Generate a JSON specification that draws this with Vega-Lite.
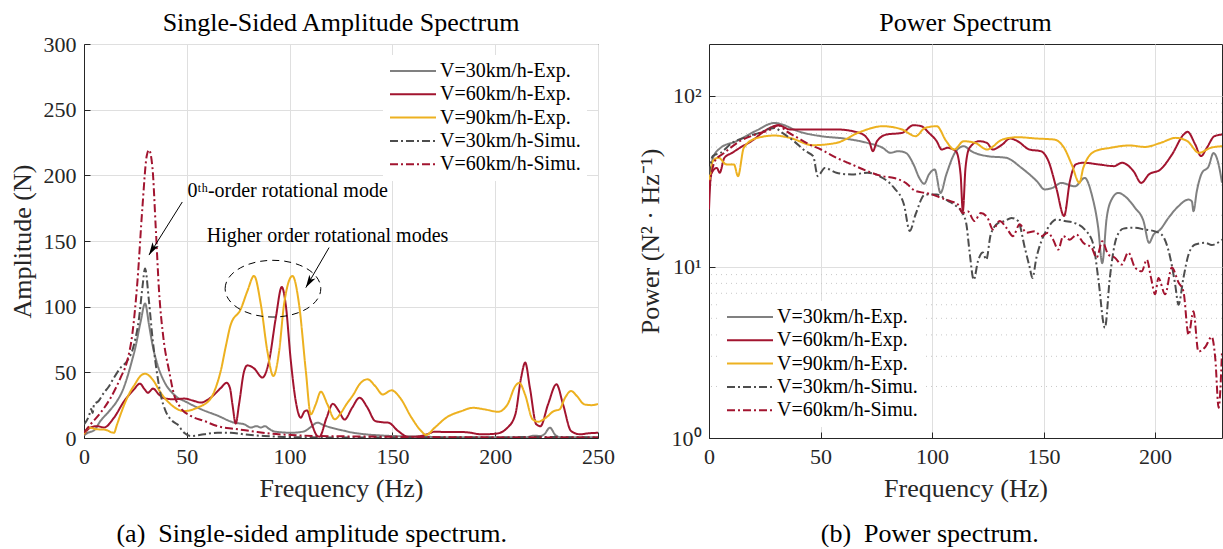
{
  "$schema": "https://vega.github.io/schema/vega-lite/v6.json",
  "background": "white",
  "padding": {"left": 8, "top": 9, "right": 0, "bottom": 0},
  "config": {
    "font": "Liberation Serif",
    "view": {"stroke": "#262626", "strokeWidth": 1},
    "axis": {
      "labelFont": "Liberation Serif",
      "titleFont": "Liberation Serif",
      "labelFontSize": 22,
      "titleFontSize": 26,
      "titleFontWeight": "normal",
      "labelColor": "#262626",
      "titleColor": "#262626",
      "domainColor": "#262626",
      "tickColor": "#262626",
      "gridColor": "#dfdfdf",
      "gridWidth": 1,
      "tickSize": -6,
      "labelPadding": 14,
      "titlePadding": 8,
      "labelFlush": false
    },
    "title": {"font": "Liberation Serif", "fontSize": 26, "fontWeight": "normal", "color": "black", "anchor": "middle"},
    "legend": {
      "title": null,
      "offset": 11,
      "padding": 6,
      "fillColor": "white",
      "labelFont": "Liberation Serif",
      "labelFontSize": 20,
      "labelColor": "black",
      "labelLimit": 300,
      "labelOffset": 3,
      "symbolType": "stroke",
      "symbolSize": 2116,
      "symbolStrokeWidth": 2,
      "rowPadding": 3.3,
      "clipHeight": 20
    }
  },
  "datasets": {
    "amp": [
      {"s": "V=30km/h-Exp.", "f": 0, "a": 2}, {"s": "V=30km/h-Exp.", "f": 2, "a": 4}, {"s": "V=30km/h-Exp.", "f": 5, "a": 6}, {"s": "V=30km/h-Exp.", "f": 8, "a": 13}, {"s": "V=30km/h-Exp.", "f": 12, "a": 20}, {"s": "V=30km/h-Exp.", "f": 16, "a": 28}, {"s": "V=30km/h-Exp.", "f": 19, "a": 37}, {"s": "V=30km/h-Exp.", "f": 21, "a": 46}, {"s": "V=30km/h-Exp.", "f": 23, "a": 57}, {"s": "V=30km/h-Exp.", "f": 25, "a": 69}, {"s": "V=30km/h-Exp.", "f": 27.6, "a": 89}, {"s": "V=30km/h-Exp.", "f": 29.7, "a": 102.5}, {"s": "V=30km/h-Exp.", "f": 31.6, "a": 86.5}, {"s": "V=30km/h-Exp.", "f": 33.3, "a": 71}, {"s": "V=30km/h-Exp.", "f": 35.7, "a": 56}, {"s": "V=30km/h-Exp.", "f": 39, "a": 43}, {"s": "V=30km/h-Exp.", "f": 43.8, "a": 33}, {"s": "V=30km/h-Exp.", "f": 50.3, "a": 27}, {"s": "V=30km/h-Exp.", "f": 56.8, "a": 22}, {"s": "V=30km/h-Exp.", "f": 65, "a": 17}, {"s": "V=30km/h-Exp.", "f": 73, "a": 11.7}, {"s": "V=30km/h-Exp.", "f": 78, "a": 10.4}, {"s": "V=30km/h-Exp.", "f": 81, "a": 8}, {"s": "V=30km/h-Exp.", "f": 84, "a": 9}, {"s": "V=30km/h-Exp.", "f": 86, "a": 8}, {"s": "V=30km/h-Exp.", "f": 88, "a": 9}, {"s": "V=30km/h-Exp.", "f": 90, "a": 7}, {"s": "V=30km/h-Exp.", "f": 92.5, "a": 5}, {"s": "V=30km/h-Exp.", "f": 100.6, "a": 4}, {"s": "V=30km/h-Exp.", "f": 107, "a": 5}, {"s": "V=30km/h-Exp.", "f": 110, "a": 8}, {"s": "V=30km/h-Exp.", "f": 113.5, "a": 11.7}, {"s": "V=30km/h-Exp.", "f": 117, "a": 9.5}, {"s": "V=30km/h-Exp.", "f": 120, "a": 8}, {"s": "V=30km/h-Exp.", "f": 125.7, "a": 5.8}, {"s": "V=30km/h-Exp.", "f": 131, "a": 4}, {"s": "V=30km/h-Exp.", "f": 137, "a": 2.8}, {"s": "V=30km/h-Exp.", "f": 146, "a": 1.8}, {"s": "V=30km/h-Exp.", "f": 155, "a": 1.3}, {"s": "V=30km/h-Exp.", "f": 165, "a": 1}, {"s": "V=30km/h-Exp.", "f": 180, "a": 0.5}, {"s": "V=30km/h-Exp.", "f": 200, "a": 0.5}, {"s": "V=30km/h-Exp.", "f": 215, "a": 0.6}, {"s": "V=30km/h-Exp.", "f": 219, "a": 1.8}, {"s": "V=30km/h-Exp.", "f": 222, "a": 1.5}, {"s": "V=30km/h-Exp.", "f": 224, "a": 3}, {"s": "V=30km/h-Exp.", "f": 226.6, "a": 7.9}, {"s": "V=30km/h-Exp.", "f": 229.4, "a": 2}, {"s": "V=30km/h-Exp.", "f": 232, "a": 0.6}, {"s": "V=30km/h-Exp.", "f": 240, "a": 0.5}, {"s": "V=30km/h-Exp.", "f": 250, "a": 0.5},

      {"s": "V=60km/h-Exp.", "f": 0, "a": 2.8}, {"s": "V=60km/h-Exp.", "f": 3.2, "a": 8}, {"s": "V=60km/h-Exp.", "f": 6.5, "a": 9}, {"s": "V=60km/h-Exp.", "f": 9.7, "a": 8}, {"s": "V=60km/h-Exp.", "f": 14.6, "a": 15.5}, {"s": "V=60km/h-Exp.", "f": 19.5, "a": 28}, {"s": "V=60km/h-Exp.", "f": 24.3, "a": 37}, {"s": "V=60km/h-Exp.", "f": 27.2, "a": 41.4}, {"s": "V=60km/h-Exp.", "f": 29.5, "a": 37}, {"s": "V=60km/h-Exp.", "f": 31.1, "a": 34.5}, {"s": "V=60km/h-Exp.", "f": 33.6, "a": 37.6}, {"s": "V=60km/h-Exp.", "f": 36.5, "a": 33}, {"s": "V=60km/h-Exp.", "f": 39.7, "a": 30}, {"s": "V=60km/h-Exp.", "f": 44, "a": 29.5}, {"s": "V=60km/h-Exp.", "f": 48.7, "a": 30}, {"s": "V=60km/h-Exp.", "f": 53, "a": 28.5}, {"s": "V=60km/h-Exp.", "f": 56.8, "a": 27}, {"s": "V=60km/h-Exp.", "f": 61.6, "a": 30.7}, {"s": "V=60km/h-Exp.", "f": 66.5, "a": 38}, {"s": "V=60km/h-Exp.", "f": 69.4, "a": 42}, {"s": "V=60km/h-Exp.", "f": 71, "a": 38}, {"s": "V=60km/h-Exp.", "f": 72.2, "a": 25.6}, {"s": "V=60km/h-Exp.", "f": 73.8, "a": 11}, {"s": "V=60km/h-Exp.", "f": 75.4, "a": 25.6}, {"s": "V=60km/h-Exp.", "f": 77.9, "a": 51}, {"s": "V=60km/h-Exp.", "f": 79.5, "a": 55.3}, {"s": "V=60km/h-Exp.", "f": 82.7, "a": 53}, {"s": "V=60km/h-Exp.", "f": 86.8, "a": 46}, {"s": "V=60km/h-Exp.", "f": 90, "a": 58.6}, {"s": "V=60km/h-Exp.", "f": 93.3, "a": 91.6}, {"s": "V=60km/h-Exp.", "f": 96.2, "a": 115}, {"s": "V=60km/h-Exp.", "f": 98.1, "a": 101.8}, {"s": "V=60km/h-Exp.", "f": 100.6, "a": 58.6}, {"s": "V=60km/h-Exp.", "f": 103, "a": 28}, {"s": "V=60km/h-Exp.", "f": 105.4, "a": 15.5}, {"s": "V=60km/h-Exp.", "f": 107.4, "a": 20.5}, {"s": "V=60km/h-Exp.", "f": 108.5, "a": 21}, {"s": "V=60km/h-Exp.", "f": 110.3, "a": 13}, {"s": "V=60km/h-Exp.", "f": 113.5, "a": 1.5}, {"s": "V=60km/h-Exp.", "f": 114.5, "a": 1}, {"s": "V=60km/h-Exp.", "f": 118, "a": 15.5}, {"s": "V=60km/h-Exp.", "f": 121, "a": 26}, {"s": "V=60km/h-Exp.", "f": 124, "a": 20.5}, {"s": "V=60km/h-Exp.", "f": 126.7, "a": 14}, {"s": "V=60km/h-Exp.", "f": 130.4, "a": 23}, {"s": "V=60km/h-Exp.", "f": 134, "a": 30.7}, {"s": "V=60km/h-Exp.", "f": 137.9, "a": 23}, {"s": "V=60km/h-Exp.", "f": 141.6, "a": 13}, {"s": "V=60km/h-Exp.", "f": 145, "a": 12}, {"s": "V=60km/h-Exp.", "f": 148, "a": 11.7}, {"s": "V=60km/h-Exp.", "f": 152.8, "a": 5.3}, {"s": "V=60km/h-Exp.", "f": 157.5, "a": 1}, {"s": "V=60km/h-Exp.", "f": 161, "a": 1}, {"s": "V=60km/h-Exp.", "f": 166.8, "a": 2.8}, {"s": "V=60km/h-Exp.", "f": 170.6, "a": 4.8}, {"s": "V=60km/h-Exp.", "f": 177, "a": 4.5}, {"s": "V=60km/h-Exp.", "f": 183.6, "a": 4.6}, {"s": "V=60km/h-Exp.", "f": 188, "a": 4}, {"s": "V=60km/h-Exp.", "f": 193, "a": 2.8}, {"s": "V=60km/h-Exp.", "f": 200.4, "a": 3.3}, {"s": "V=60km/h-Exp.", "f": 206, "a": 7.9}, {"s": "V=60km/h-Exp.", "f": 209.8, "a": 18}, {"s": "V=60km/h-Exp.", "f": 212.6, "a": 46}, {"s": "V=60km/h-Exp.", "f": 214.6, "a": 57.4}, {"s": "V=60km/h-Exp.", "f": 216.9, "a": 38}, {"s": "V=60km/h-Exp.", "f": 220, "a": 10.4}, {"s": "V=60km/h-Exp.", "f": 222, "a": 9}, {"s": "V=60km/h-Exp.", "f": 225.7, "a": 25.6}, {"s": "V=60km/h-Exp.", "f": 229.8, "a": 40.9}, {"s": "V=60km/h-Exp.", "f": 233, "a": 25.6}, {"s": "V=60km/h-Exp.", "f": 236.9, "a": 5.3}, {"s": "V=60km/h-Exp.", "f": 241.5, "a": 2.8}, {"s": "V=60km/h-Exp.", "f": 245, "a": 3.5}, {"s": "V=60km/h-Exp.", "f": 250, "a": 4},

      {"s": "V=90km/h-Exp.", "f": 0, "a": 2.8}, {"s": "V=90km/h-Exp.", "f": 2.4, "a": 8}, {"s": "V=90km/h-Exp.", "f": 4, "a": 7.5}, {"s": "V=90km/h-Exp.", "f": 6.5, "a": 6.6}, {"s": "V=90km/h-Exp.", "f": 9, "a": 6.5}, {"s": "V=90km/h-Exp.", "f": 11.4, "a": 5.8}, {"s": "V=90km/h-Exp.", "f": 13, "a": 4.5}, {"s": "V=90km/h-Exp.", "f": 14.6, "a": 4}, {"s": "V=90km/h-Exp.", "f": 16, "a": 10}, {"s": "V=90km/h-Exp.", "f": 17.8, "a": 18}, {"s": "V=90km/h-Exp.", "f": 20, "a": 27}, {"s": "V=90km/h-Exp.", "f": 22.7, "a": 35.8}, {"s": "V=90km/h-Exp.", "f": 24.8, "a": 41}, {"s": "V=90km/h-Exp.", "f": 26.8, "a": 46}, {"s": "V=90km/h-Exp.", "f": 29.7, "a": 49}, {"s": "V=90km/h-Exp.", "f": 33.3, "a": 44.7}, {"s": "V=90km/h-Exp.", "f": 37.3, "a": 34.5}, {"s": "V=90km/h-Exp.", "f": 42.2, "a": 25.6}, {"s": "V=90km/h-Exp.", "f": 48.7, "a": 20.5}, {"s": "V=90km/h-Exp.", "f": 55, "a": 23}, {"s": "V=90km/h-Exp.", "f": 61.6, "a": 30}, {"s": "V=90km/h-Exp.", "f": 64, "a": 38}, {"s": "V=90km/h-Exp.", "f": 66.5, "a": 51}, {"s": "V=90km/h-Exp.", "f": 69, "a": 70}, {"s": "V=90km/h-Exp.", "f": 71.4, "a": 86.5}, {"s": "V=90km/h-Exp.", "f": 76.2, "a": 98}, {"s": "V=90km/h-Exp.", "f": 79.5, "a": 112}, {"s": "V=90km/h-Exp.", "f": 82.7, "a": 123.4}, {"s": "V=90km/h-Exp.", "f": 86, "a": 101.8}, {"s": "V=90km/h-Exp.", "f": 89.2, "a": 66}, {"s": "V=90km/h-Exp.", "f": 92.1, "a": 47.2}, {"s": "V=90km/h-Exp.", "f": 94.9, "a": 66}, {"s": "V=90km/h-Exp.", "f": 97.3, "a": 101.8}, {"s": "V=90km/h-Exp.", "f": 101.4, "a": 123.4}, {"s": "V=90km/h-Exp.", "f": 104.6, "a": 101.8}, {"s": "V=90km/h-Exp.", "f": 107.9, "a": 51}, {"s": "V=90km/h-Exp.", "f": 110.3, "a": 18}, {"s": "V=90km/h-Exp.", "f": 112.7, "a": 25.6}, {"s": "V=90km/h-Exp.", "f": 115.2, "a": 35.3}, {"s": "V=90km/h-Exp.", "f": 118.4, "a": 25.6}, {"s": "V=90km/h-Exp.", "f": 122, "a": 14.2}, {"s": "V=90km/h-Exp.", "f": 124.5, "a": 18}, {"s": "V=90km/h-Exp.", "f": 127.6, "a": 25.6}, {"s": "V=90km/h-Exp.", "f": 131, "a": 33}, {"s": "V=90km/h-Exp.", "f": 134, "a": 40.9}, {"s": "V=90km/h-Exp.", "f": 137.9, "a": 44.7}, {"s": "V=90km/h-Exp.", "f": 141.6, "a": 39.6}, {"s": "V=90km/h-Exp.", "f": 145.3, "a": 33.2}, {"s": "V=90km/h-Exp.", "f": 149.6, "a": 36.3}, {"s": "V=90km/h-Exp.", "f": 153.7, "a": 30.7}, {"s": "V=90km/h-Exp.", "f": 159.3, "a": 15.5}, {"s": "V=90km/h-Exp.", "f": 164, "a": 5.3}, {"s": "V=90km/h-Exp.", "f": 166.4, "a": 2.3}, {"s": "V=90km/h-Exp.", "f": 170.6, "a": 7.9}, {"s": "V=90km/h-Exp.", "f": 176.2, "a": 15.5}, {"s": "V=90km/h-Exp.", "f": 183.6, "a": 20.5}, {"s": "V=90km/h-Exp.", "f": 189.2, "a": 23}, {"s": "V=90km/h-Exp.", "f": 194.8, "a": 21.8}, {"s": "V=90km/h-Exp.", "f": 201.4, "a": 20}, {"s": "V=90km/h-Exp.", "f": 206, "a": 25.6}, {"s": "V=90km/h-Exp.", "f": 209.8, "a": 39.6}, {"s": "V=90km/h-Exp.", "f": 211.7, "a": 42}, {"s": "V=90km/h-Exp.", "f": 214.5, "a": 33.2}, {"s": "V=90km/h-Exp.", "f": 218.2, "a": 14.2}, {"s": "V=90km/h-Exp.", "f": 221, "a": 12.4}, {"s": "V=90km/h-Exp.", "f": 224.7, "a": 15.5}, {"s": "V=90km/h-Exp.", "f": 228.5, "a": 20.5}, {"s": "V=90km/h-Exp.", "f": 231.3, "a": 21.8}, {"s": "V=90km/h-Exp.", "f": 234, "a": 30.7}, {"s": "V=90km/h-Exp.", "f": 236.9, "a": 35.8}, {"s": "V=90km/h-Exp.", "f": 239.7, "a": 32}, {"s": "V=90km/h-Exp.", "f": 243.4, "a": 25.6}, {"s": "V=90km/h-Exp.", "f": 247, "a": 25}, {"s": "V=90km/h-Exp.", "f": 250, "a": 26},

      {"s": "V=30km/h-Simu.", "f": 0, "a": 10.4}, {"s": "V=30km/h-Simu.", "f": 2.4, "a": 16.8}, {"s": "V=30km/h-Simu.", "f": 3.5, "a": 22}, {"s": "V=30km/h-Simu.", "f": 4.2, "a": 19}, {"s": "V=30km/h-Simu.", "f": 4.9, "a": 25.6}, {"s": "V=30km/h-Simu.", "f": 7, "a": 28}, {"s": "V=30km/h-Simu.", "f": 9.7, "a": 34.5}, {"s": "V=30km/h-Simu.", "f": 12, "a": 39}, {"s": "V=30km/h-Simu.", "f": 14.6, "a": 46}, {"s": "V=30km/h-Simu.", "f": 17.8, "a": 53.5}, {"s": "V=30km/h-Simu.", "f": 21, "a": 58.6}, {"s": "V=30km/h-Simu.", "f": 24.3, "a": 71}, {"s": "V=30km/h-Simu.", "f": 26.8, "a": 91.6}, {"s": "V=30km/h-Simu.", "f": 28.4, "a": 114.5}, {"s": "V=30km/h-Simu.", "f": 29.7, "a": 129}, {"s": "V=30km/h-Simu.", "f": 31.6, "a": 104}, {"s": "V=30km/h-Simu.", "f": 33.3, "a": 76.4}, {"s": "V=30km/h-Simu.", "f": 34.9, "a": 56}, {"s": "V=30km/h-Simu.", "f": 37.3, "a": 33}, {"s": "V=30km/h-Simu.", "f": 39.7, "a": 20.5}, {"s": "V=30km/h-Simu.", "f": 43, "a": 13}, {"s": "V=30km/h-Simu.", "f": 45.4, "a": 10.4}, {"s": "V=30km/h-Simu.", "f": 48.7, "a": 4}, {"s": "V=30km/h-Simu.", "f": 51.9, "a": 1.5}, {"s": "V=30km/h-Simu.", "f": 58.4, "a": 2.8}, {"s": "V=30km/h-Simu.", "f": 65, "a": 4}, {"s": "V=30km/h-Simu.", "f": 71.4, "a": 4}, {"s": "V=30km/h-Simu.", "f": 78, "a": 2.8}, {"s": "V=30km/h-Simu.", "f": 87.6, "a": 1.5}, {"s": "V=30km/h-Simu.", "f": 97.3, "a": 0.8}, {"s": "V=30km/h-Simu.", "f": 110, "a": 0.5}, {"s": "V=30km/h-Simu.", "f": 130, "a": 0.4}, {"s": "V=30km/h-Simu.", "f": 160, "a": 0.3}, {"s": "V=30km/h-Simu.", "f": 200, "a": 0.3}, {"s": "V=30km/h-Simu.", "f": 220, "a": 0.8}, {"s": "V=30km/h-Simu.", "f": 250, "a": 0.3},

      {"s": "V=60km/h-Simu.", "f": 0, "a": 4}, {"s": "V=60km/h-Simu.", "f": 3.2, "a": 10.4}, {"s": "V=60km/h-Simu.", "f": 8.1, "a": 19.3}, {"s": "V=60km/h-Simu.", "f": 13, "a": 30.7}, {"s": "V=60km/h-Simu.", "f": 17.8, "a": 46}, {"s": "V=60km/h-Simu.", "f": 21, "a": 58.6}, {"s": "V=60km/h-Simu.", "f": 23.5, "a": 79}, {"s": "V=60km/h-Simu.", "f": 26, "a": 119.5}, {"s": "V=60km/h-Simu.", "f": 28.4, "a": 175.4}, {"s": "V=60km/h-Simu.", "f": 30.5, "a": 214.7}, {"s": "V=60km/h-Simu.", "f": 31.6, "a": 219.3}, {"s": "V=60km/h-Simu.", "f": 33.3, "a": 205.8}, {"s": "V=60km/h-Simu.", "f": 34.9, "a": 160}, {"s": "V=60km/h-Simu.", "f": 36.5, "a": 112}, {"s": "V=60km/h-Simu.", "f": 38.6, "a": 76.4}, {"s": "V=60km/h-Simu.", "f": 41.4, "a": 51}, {"s": "V=60km/h-Simu.", "f": 43.8, "a": 33}, {"s": "V=60km/h-Simu.", "f": 47, "a": 23}, {"s": "V=60km/h-Simu.", "f": 51.9, "a": 16.8}, {"s": "V=60km/h-Simu.", "f": 58.4, "a": 13}, {"s": "V=60km/h-Simu.", "f": 65, "a": 9}, {"s": "V=60km/h-Simu.", "f": 73, "a": 7}, {"s": "V=60km/h-Simu.", "f": 81.1, "a": 5.3}, {"s": "V=60km/h-Simu.", "f": 90.8, "a": 3.3}, {"s": "V=60km/h-Simu.", "f": 100.6, "a": 2.3}, {"s": "V=60km/h-Simu.", "f": 113.5, "a": 1.5}, {"s": "V=60km/h-Simu.", "f": 130, "a": 1.2}, {"s": "V=60km/h-Simu.", "f": 150, "a": 0.9}, {"s": "V=60km/h-Simu.", "f": 180, "a": 0.6}, {"s": "V=60km/h-Simu.", "f": 210, "a": 0.4}, {"s": "V=60km/h-Simu.", "f": 250, "a": 0.3}
    ],
    "psd": [
      {"s": "V=30km/h-Exp.", "f": 0, "p": 26.4}, {"s": "V=30km/h-Exp.", "f": 1.7, "p": 43}, {"s": "V=30km/h-Exp.", "f": 5.2, "p": 49.5}, {"s": "V=30km/h-Exp.", "f": 12.1, "p": 54}, {"s": "V=30km/h-Exp.", "f": 20.8, "p": 62}, {"s": "V=30km/h-Exp.", "f": 29.4, "p": 69.2}, {"s": "V=30km/h-Exp.", "f": 32.9, "p": 67.7}, {"s": "V=30km/h-Exp.", "f": 39.8, "p": 62}, {"s": "V=30km/h-Exp.", "f": 50.2, "p": 57.9}, {"s": "V=30km/h-Exp.", "f": 60.6, "p": 56.1}, {"s": "V=30km/h-Exp.", "f": 71, "p": 52.9}, {"s": "V=30km/h-Exp.", "f": 77.9, "p": 49.5}, {"s": "V=30km/h-Exp.", "f": 81.3, "p": 46.3}, {"s": "V=30km/h-Exp.", "f": 84.8, "p": 47.3}, {"s": "V=30km/h-Exp.", "f": 88.2, "p": 46.3}, {"s": "V=30km/h-Exp.", "f": 91.7, "p": 39.6}, {"s": "V=30km/h-Exp.", "f": 94.3, "p": 33}, {"s": "V=30km/h-Exp.", "f": 96.5, "p": 30.5}, {"s": "V=30km/h-Exp.", "f": 98.6, "p": 34.6}, {"s": "V=30km/h-Exp.", "f": 101.2, "p": 37}, {"s": "V=30km/h-Exp.", "f": 103.8, "p": 27}, {"s": "V=30km/h-Exp.", "f": 106.4, "p": 34.6}, {"s": "V=30km/h-Exp.", "f": 110.7, "p": 47.3}, {"s": "V=30km/h-Exp.", "f": 114.2, "p": 50.6}, {"s": "V=30km/h-Exp.", "f": 117.6, "p": 47.3}, {"s": "V=30km/h-Exp.", "f": 124.6, "p": 44.3}, {"s": "V=30km/h-Exp.", "f": 133.2, "p": 43.3}, {"s": "V=30km/h-Exp.", "f": 140.1, "p": 37.8}, {"s": "V=30km/h-Exp.", "f": 147, "p": 31.6}, {"s": "V=30km/h-Exp.", "f": 150.5, "p": 28.3}, {"s": "V=30km/h-Exp.", "f": 154, "p": 28.9}, {"s": "V=30km/h-Exp.", "f": 158, "p": 30.9}, {"s": "V=30km/h-Exp.", "f": 164, "p": 29.5}, {"s": "V=30km/h-Exp.", "f": 168.5, "p": 33}, {"s": "V=30km/h-Exp.", "f": 171.6, "p": 26.4}, {"s": "V=30km/h-Exp.", "f": 174.5, "p": 16.9}, {"s": "V=30km/h-Exp.", "f": 176.3, "p": 10.5}, {"s": "V=30km/h-Exp.", "f": 178.3, "p": 19.3}, {"s": "V=30km/h-Exp.", "f": 180.5, "p": 24.7}, {"s": "V=30km/h-Exp.", "f": 183.5, "p": 27}, {"s": "V=30km/h-Exp.", "f": 186.5, "p": 25.8}, {"s": "V=30km/h-Exp.", "f": 191, "p": 22.1}, {"s": "V=30km/h-Exp.", "f": 194.8, "p": 18.5}, {"s": "V=30km/h-Exp.", "f": 197.3, "p": 13.8}, {"s": "V=30km/h-Exp.", "f": 199.3, "p": 15.4}, {"s": "V=30km/h-Exp.", "f": 202.3, "p": 16.5}, {"s": "V=30km/h-Exp.", "f": 206, "p": 19.3}, {"s": "V=30km/h-Exp.", "f": 210.5, "p": 22.6}, {"s": "V=30km/h-Exp.", "f": 215, "p": 24.7}, {"s": "V=30km/h-Exp.", "f": 216.5, "p": 24.1}, {"s": "V=30km/h-Exp.", "f": 217.2, "p": 21.1}, {"s": "V=30km/h-Exp.", "f": 218.7, "p": 27.6}, {"s": "V=30km/h-Exp.", "f": 221, "p": 35.3}, {"s": "V=30km/h-Exp.", "f": 224, "p": 38.6}, {"s": "V=30km/h-Exp.", "f": 226.2, "p": 46.2}, {"s": "V=30km/h-Exp.", "f": 228.5, "p": 39.5}, {"s": "V=30km/h-Exp.", "f": 230, "p": 31},

      {"s": "V=60km/h-Exp.", "f": 0, "p": 21.6}, {"s": "V=60km/h-Exp.", "f": 0.9, "p": 34.6}, {"s": "V=60km/h-Exp.", "f": 3.5, "p": 37.8}, {"s": "V=60km/h-Exp.", "f": 4.8, "p": 35.4}, {"s": "V=60km/h-Exp.", "f": 6.9, "p": 43.3}, {"s": "V=60km/h-Exp.", "f": 10.4, "p": 46.3}, {"s": "V=60km/h-Exp.", "f": 13.8, "p": 49.5}, {"s": "V=60km/h-Exp.", "f": 19, "p": 54.1}, {"s": "V=60km/h-Exp.", "f": 26, "p": 63.4}, {"s": "V=60km/h-Exp.", "f": 31.1, "p": 67.1}, {"s": "V=60km/h-Exp.", "f": 36.3, "p": 63.4}, {"s": "V=60km/h-Exp.", "f": 46.7, "p": 63.4}, {"s": "V=60km/h-Exp.", "f": 57.1, "p": 63.4}, {"s": "V=60km/h-Exp.", "f": 67.5, "p": 60.5}, {"s": "V=60km/h-Exp.", "f": 71.8, "p": 54.1}, {"s": "V=60km/h-Exp.", "f": 73.5, "p": 47.3}, {"s": "V=60km/h-Exp.", "f": 75.3, "p": 54.1}, {"s": "V=60km/h-Exp.", "f": 79.6, "p": 59.2}, {"s": "V=60km/h-Exp.", "f": 86.5, "p": 60.5}, {"s": "V=60km/h-Exp.", "f": 91.7, "p": 67.1}, {"s": "V=60km/h-Exp.", "f": 95.2, "p": 66.2}, {"s": "V=60km/h-Exp.", "f": 98.6, "p": 60.5}, {"s": "V=60km/h-Exp.", "f": 102.1, "p": 54.1}, {"s": "V=60km/h-Exp.", "f": 104.3, "p": 48.4}, {"s": "V=60km/h-Exp.", "f": 106.9, "p": 49.5}, {"s": "V=60km/h-Exp.", "f": 110.7, "p": 47.3}, {"s": "V=60km/h-Exp.", "f": 112.8, "p": 34.6}, {"s": "V=60km/h-Exp.", "f": 113.8, "p": 21.1}, {"s": "V=60km/h-Exp.", "f": 115, "p": 37.8}, {"s": "V=60km/h-Exp.", "f": 116.8, "p": 49.5}, {"s": "V=60km/h-Exp.", "f": 121.1, "p": 54.1}, {"s": "V=60km/h-Exp.", "f": 124.6, "p": 52.9}, {"s": "V=60km/h-Exp.", "f": 127.2, "p": 48.4}, {"s": "V=60km/h-Exp.", "f": 131.5, "p": 51.8}, {"s": "V=60km/h-Exp.", "f": 134.9, "p": 56.1}, {"s": "V=60km/h-Exp.", "f": 138.4, "p": 54.1}, {"s": "V=60km/h-Exp.", "f": 143.6, "p": 48.4}, {"s": "V=60km/h-Exp.", "f": 148.8, "p": 47.3}, {"s": "V=60km/h-Exp.", "f": 152.2, "p": 41.4}, {"s": "V=60km/h-Exp.", "f": 155.7, "p": 28.9}, {"s": "V=60km/h-Exp.", "f": 159.2, "p": 19.8}, {"s": "V=60km/h-Exp.", "f": 161.8, "p": 31.6}, {"s": "V=60km/h-Exp.", "f": 164.4, "p": 39.6}, {"s": "V=60km/h-Exp.", "f": 167.8, "p": 40.5}, {"s": "V=60km/h-Exp.", "f": 174.7, "p": 39.6}, {"s": "V=60km/h-Exp.", "f": 181.7, "p": 38.7}, {"s": "V=60km/h-Exp.", "f": 185.1, "p": 40.5}, {"s": "V=60km/h-Exp.", "f": 190.3, "p": 36.2}, {"s": "V=60km/h-Exp.", "f": 193.8, "p": 30.9}, {"s": "V=60km/h-Exp.", "f": 197.2, "p": 34.6}, {"s": "V=60km/h-Exp.", "f": 202.4, "p": 37}, {"s": "V=60km/h-Exp.", "f": 207.6, "p": 45.3}, {"s": "V=60km/h-Exp.", "f": 212.8, "p": 59.2}, {"s": "V=60km/h-Exp.", "f": 214.5, "p": 61.4}, {"s": "V=60km/h-Exp.", "f": 218, "p": 51.8}, {"s": "V=60km/h-Exp.", "f": 220.6, "p": 44.3}, {"s": "V=60km/h-Exp.", "f": 223.2, "p": 49.5}, {"s": "V=60km/h-Exp.", "f": 226.6, "p": 57.9}, {"s": "V=60km/h-Exp.", "f": 230, "p": 59.2},

      {"s": "V=90km/h-Exp.", "f": 0, "p": 30.2}, {"s": "V=90km/h-Exp.", "f": 1.7, "p": 41.4}, {"s": "V=90km/h-Exp.", "f": 4.3, "p": 43.3}, {"s": "V=90km/h-Exp.", "f": 7.8, "p": 39.6}, {"s": "V=90km/h-Exp.", "f": 11.2, "p": 39.6}, {"s": "V=90km/h-Exp.", "f": 13, "p": 33.8}, {"s": "V=90km/h-Exp.", "f": 15.6, "p": 49.5}, {"s": "V=90km/h-Exp.", "f": 20.8, "p": 56.1}, {"s": "V=90km/h-Exp.", "f": 29.4, "p": 58.4}, {"s": "V=90km/h-Exp.", "f": 36.3, "p": 56.6}, {"s": "V=90km/h-Exp.", "f": 46.7, "p": 51.3}, {"s": "V=90km/h-Exp.", "f": 57.1, "p": 52.9}, {"s": "V=90km/h-Exp.", "f": 67.5, "p": 61.1}, {"s": "V=90km/h-Exp.", "f": 77.9, "p": 66.2}, {"s": "V=90km/h-Exp.", "f": 86.5, "p": 63.4}, {"s": "V=90km/h-Exp.", "f": 92.6, "p": 57.9}, {"s": "V=90km/h-Exp.", "f": 96.9, "p": 64.7}, {"s": "V=90km/h-Exp.", "f": 102.1, "p": 66.2}, {"s": "V=90km/h-Exp.", "f": 106.4, "p": 54.1}, {"s": "V=90km/h-Exp.", "f": 109.9, "p": 48.4}, {"s": "V=90km/h-Exp.", "f": 114.2, "p": 54.1}, {"s": "V=90km/h-Exp.", "f": 119.4, "p": 52.9}, {"s": "V=90km/h-Exp.", "f": 124.6, "p": 48.4}, {"s": "V=90km/h-Exp.", "f": 131.5, "p": 55.3}, {"s": "V=90km/h-Exp.", "f": 138.4, "p": 57.1}, {"s": "V=90km/h-Exp.", "f": 147, "p": 56.1}, {"s": "V=90km/h-Exp.", "f": 154.8, "p": 55.3}, {"s": "V=90km/h-Exp.", "f": 159.2, "p": 49.5}, {"s": "V=90km/h-Exp.", "f": 162.6, "p": 39.6}, {"s": "V=90km/h-Exp.", "f": 166.1, "p": 30.9}, {"s": "V=90km/h-Exp.", "f": 167.8, "p": 37.8}, {"s": "V=90km/h-Exp.", "f": 173, "p": 47.3}, {"s": "V=90km/h-Exp.", "f": 179.9, "p": 49.5}, {"s": "V=90km/h-Exp.", "f": 188.6, "p": 51.1}, {"s": "V=90km/h-Exp.", "f": 195.5, "p": 50.1}, {"s": "V=90km/h-Exp.", "f": 202.4, "p": 52.9}, {"s": "V=90km/h-Exp.", "f": 209.3, "p": 56.6}, {"s": "V=90km/h-Exp.", "f": 214.5, "p": 54.1}, {"s": "V=90km/h-Exp.", "f": 219.7, "p": 46.3}, {"s": "V=90km/h-Exp.", "f": 224.9, "p": 49.5}, {"s": "V=90km/h-Exp.", "f": 230, "p": 50.6},

      {"s": "V=30km/h-Simu.", "f": 0, "p": 34.6}, {"s": "V=30km/h-Simu.", "f": 1.7, "p": 44.3}, {"s": "V=30km/h-Simu.", "f": 5.2, "p": 46.3}, {"s": "V=30km/h-Simu.", "f": 10.4, "p": 52.9}, {"s": "V=30km/h-Simu.", "f": 15.6, "p": 56.6}, {"s": "V=30km/h-Simu.", "f": 22.5, "p": 60.5}, {"s": "V=30km/h-Simu.", "f": 29.4, "p": 64.7}, {"s": "V=30km/h-Simu.", "f": 32.9, "p": 60.5}, {"s": "V=30km/h-Simu.", "f": 38.1, "p": 54.1}, {"s": "V=30km/h-Simu.", "f": 43.3, "p": 47.3}, {"s": "V=30km/h-Simu.", "f": 46.7, "p": 44.3}, {"s": "V=30km/h-Simu.", "f": 48.8, "p": 33.8}, {"s": "V=30km/h-Simu.", "f": 51.9, "p": 37.8}, {"s": "V=30km/h-Simu.", "f": 57.1, "p": 35.4}, {"s": "V=30km/h-Simu.", "f": 64, "p": 34.6}, {"s": "V=30km/h-Simu.", "f": 71, "p": 35.4}, {"s": "V=30km/h-Simu.", "f": 77.9, "p": 33}, {"s": "V=30km/h-Simu.", "f": 83, "p": 28.9}, {"s": "V=30km/h-Simu.", "f": 87.4, "p": 23.1}, {"s": "V=30km/h-Simu.", "f": 90, "p": 16.2}, {"s": "V=30km/h-Simu.", "f": 92.6, "p": 20.2}, {"s": "V=30km/h-Simu.", "f": 96.9, "p": 26.4}, {"s": "V=30km/h-Simu.", "f": 102.1, "p": 26.4}, {"s": "V=30km/h-Simu.", "f": 107.3, "p": 24.2}, {"s": "V=30km/h-Simu.", "f": 110.5, "p": 22.8}, {"s": "V=30km/h-Simu.", "f": 113.1, "p": 21.1}, {"s": "V=30km/h-Simu.", "f": 115.3, "p": 18}, {"s": "V=30km/h-Simu.", "f": 116.8, "p": 12.3}, {"s": "V=30km/h-Simu.", "f": 118.7, "p": 8.4}, {"s": "V=30km/h-Simu.", "f": 120.6, "p": 10.8}, {"s": "V=30km/h-Simu.", "f": 122.8, "p": 12.1}, {"s": "V=30km/h-Simu.", "f": 124.3, "p": 11}, {"s": "V=30km/h-Simu.", "f": 126.3, "p": 15.4}, {"s": "V=30km/h-Simu.", "f": 129.6, "p": 18}, {"s": "V=30km/h-Simu.", "f": 132.6, "p": 18.5}, {"s": "V=30km/h-Simu.", "f": 135.6, "p": 19.3}, {"s": "V=30km/h-Simu.", "f": 138.6, "p": 18.5}, {"s": "V=30km/h-Simu.", "f": 141.6, "p": 12.9}, {"s": "V=30km/h-Simu.", "f": 143.8, "p": 9.9}, {"s": "V=30km/h-Simu.", "f": 145, "p": 8.6}, {"s": "V=30km/h-Simu.", "f": 146.8, "p": 11.3}, {"s": "V=30km/h-Simu.", "f": 149, "p": 14.1}, {"s": "V=30km/h-Simu.", "f": 152, "p": 16.9}, {"s": "V=30km/h-Simu.", "f": 155.8, "p": 18.9}, {"s": "V=30km/h-Simu.", "f": 159.5, "p": 18.5}, {"s": "V=30km/h-Simu.", "f": 164, "p": 18}, {"s": "V=30km/h-Simu.", "f": 168.5, "p": 16.5}, {"s": "V=30km/h-Simu.", "f": 172.3, "p": 13.5}, {"s": "V=30km/h-Simu.", "f": 174.5, "p": 8.6}, {"s": "V=30km/h-Simu.", "f": 177.5, "p": 4.4}, {"s": "V=30km/h-Simu.", "f": 179.7, "p": 8.6}, {"s": "V=30km/h-Simu.", "f": 182.7, "p": 14.8}, {"s": "V=30km/h-Simu.", "f": 185.8, "p": 16.7}, {"s": "V=30km/h-Simu.", "f": 190.3, "p": 16.9}, {"s": "V=30km/h-Simu.", "f": 195.5, "p": 16.5}, {"s": "V=30km/h-Simu.", "f": 200, "p": 16.1}, {"s": "V=30km/h-Simu.", "f": 203, "p": 15.4}, {"s": "V=30km/h-Simu.", "f": 206.8, "p": 11.3}, {"s": "V=30km/h-Simu.", "f": 209, "p": 7.9}, {"s": "V=30km/h-Simu.", "f": 210.5, "p": 6}, {"s": "V=30km/h-Simu.", "f": 212.7, "p": 8.6}, {"s": "V=30km/h-Simu.", "f": 215, "p": 11.8}, {"s": "V=30km/h-Simu.", "f": 218, "p": 13.5}, {"s": "V=30km/h-Simu.", "f": 222.5, "p": 13.8}, {"s": "V=30km/h-Simu.", "f": 225.4, "p": 13.4}, {"s": "V=30km/h-Simu.", "f": 230, "p": 14.4},

      {"s": "V=60km/h-Simu.", "f": 0, "p": 28.9}, {"s": "V=60km/h-Simu.", "f": 2.6, "p": 41.4}, {"s": "V=60km/h-Simu.", "f": 6.9, "p": 46.3}, {"s": "V=60km/h-Simu.", "f": 13.8, "p": 54.1}, {"s": "V=60km/h-Simu.", "f": 20.8, "p": 59.2}, {"s": "V=60km/h-Simu.", "f": 27.7, "p": 63.4}, {"s": "V=60km/h-Simu.", "f": 31.1, "p": 67.1}, {"s": "V=60km/h-Simu.", "f": 34.6, "p": 62}, {"s": "V=60km/h-Simu.", "f": 39.8, "p": 56.6}, {"s": "V=60km/h-Simu.", "f": 45, "p": 51.8}, {"s": "V=60km/h-Simu.", "f": 50.2, "p": 48.4}, {"s": "V=60km/h-Simu.", "f": 57.1, "p": 43.3}, {"s": "V=60km/h-Simu.", "f": 64, "p": 39.6}, {"s": "V=60km/h-Simu.", "f": 71, "p": 36.2}, {"s": "V=60km/h-Simu.", "f": 77.9, "p": 33.8}, {"s": "V=60km/h-Simu.", "f": 83, "p": 33}, {"s": "V=60km/h-Simu.", "f": 88.2, "p": 30.9}, {"s": "V=60km/h-Simu.", "f": 92.6, "p": 27.7}, {"s": "V=60km/h-Simu.", "f": 96.9, "p": 27}, {"s": "V=60km/h-Simu.", "f": 100.3, "p": 26.4}, {"s": "V=60km/h-Simu.", "f": 103.8, "p": 25.3}, {"s": "V=60km/h-Simu.", "f": 108.6, "p": 24.1}, {"s": "V=60km/h-Simu.", "f": 111.6, "p": 23.1}, {"s": "V=60km/h-Simu.", "f": 113.8, "p": 20.6}, {"s": "V=60km/h-Simu.", "f": 116, "p": 21.1}, {"s": "V=60km/h-Simu.", "f": 119, "p": 18.5}, {"s": "V=60km/h-Simu.", "f": 121.9, "p": 20.6}, {"s": "V=60km/h-Simu.", "f": 124.9, "p": 19.3}, {"s": "V=60km/h-Simu.", "f": 127.3, "p": 16.5}, {"s": "V=60km/h-Simu.", "f": 130.3, "p": 18.5}, {"s": "V=60km/h-Simu.", "f": 133.3, "p": 16.9}, {"s": "V=60km/h-Simu.", "f": 136.3, "p": 15.1}, {"s": "V=60km/h-Simu.", "f": 139.3, "p": 17.7}, {"s": "V=60km/h-Simu.", "f": 142.3, "p": 15.8}, {"s": "V=60km/h-Simu.", "f": 146, "p": 16.1}, {"s": "V=60km/h-Simu.", "f": 149, "p": 15.1}, {"s": "V=60km/h-Simu.", "f": 152, "p": 15.8}, {"s": "V=60km/h-Simu.", "f": 154.3, "p": 14.4}, {"s": "V=60km/h-Simu.", "f": 156.6, "p": 12.6}, {"s": "V=60km/h-Simu.", "f": 158.8, "p": 15.1}, {"s": "V=60km/h-Simu.", "f": 161.8, "p": 14.4}, {"s": "V=60km/h-Simu.", "f": 164.8, "p": 15.4}, {"s": "V=60km/h-Simu.", "f": 167.8, "p": 13.8}, {"s": "V=60km/h-Simu.", "f": 171.6, "p": 12.9}, {"s": "V=60km/h-Simu.", "f": 173.8, "p": 11.3}, {"s": "V=60km/h-Simu.", "f": 176.3, "p": 14.1}, {"s": "V=60km/h-Simu.", "f": 179, "p": 11.8}, {"s": "V=60km/h-Simu.", "f": 182, "p": 11.3}, {"s": "V=60km/h-Simu.", "f": 185, "p": 10.3}, {"s": "V=60km/h-Simu.", "f": 188, "p": 12.1}, {"s": "V=60km/h-Simu.", "f": 191, "p": 9.9}, {"s": "V=60km/h-Simu.", "f": 194, "p": 9.4}, {"s": "V=60km/h-Simu.", "f": 196.3, "p": 11}, {"s": "V=60km/h-Simu.", "f": 198.2, "p": 8.6}, {"s": "V=60km/h-Simu.", "f": 200, "p": 6.9}, {"s": "V=60km/h-Simu.", "f": 201.5, "p": 8.6}, {"s": "V=60km/h-Simu.", "f": 204.5, "p": 6.9}, {"s": "V=60km/h-Simu.", "f": 207.5, "p": 9.9}, {"s": "V=60km/h-Simu.", "f": 210.5, "p": 8.1}, {"s": "V=60km/h-Simu.", "f": 212.7, "p": 7.2}, {"s": "V=60km/h-Simu.", "f": 215, "p": 4}, {"s": "V=60km/h-Simu.", "f": 217.2, "p": 5.5}, {"s": "V=60km/h-Simu.", "f": 219.4, "p": 3.2}, {"s": "V=60km/h-Simu.", "f": 222.5, "p": 3.4}, {"s": "V=60km/h-Simu.", "f": 225.4, "p": 3.9}, {"s": "V=60km/h-Simu.", "f": 227, "p": 2.9}, {"s": "V=60km/h-Simu.", "f": 228.5, "p": 1.5}, {"s": "V=60km/h-Simu.", "f": 230, "p": 3.2}
    ],
    "minor": [
      {"p": 2}, {"p": 3}, {"p": 4}, {"p": 5}, {"p": 6}, {"p": 7}, {"p": 8}, {"p": 9},
      {"p": 20}, {"p": 30}, {"p": 40}, {"p": 50}, {"p": 60}, {"p": 70}, {"p": 80}, {"p": 90}
    ],
    "notes": [
      {"f": 50.4, "a": 188, "t": "0ᵗʰ-order rotational mode"},
      {"f": 59.7, "a": 153.8, "t": "Higher order rotational modes"}
    ],
    "arrows": [
      {"f": 47.8, "a": 179.7, "f2": 31.6, "a2": 139.3},
      {"f": 119.2, "a": 145, "f2": 107.9, "a2": 114.5}
    ],
    "tips": [
      {"f": 31.6, "a": 139.3},
      {"f": 107.9, "a": 114.5}
    ],
    "ring": [
      {"f": 91.9, "a": 113.7}
    ]
  },
  "resolve": {
    "scale": {"x": "independent", "y": "independent", "color": "independent", "strokeDash": "independent"},
    "legend": {"color": "independent", "strokeDash": "independent"}
  },
  "spacing": 21,
  "hconcat": [
    {
      "title": {"text": "(a)\u2002Single-sided amplitude spectrum.", "orient": "bottom", "offset": 19},
      "resolve": {
        "scale": {"color": "independent", "strokeDash": "independent"},
        "legend": {"color": "independent", "strokeDash": "independent"}
      },
      "vconcat": [
        {
          "width": 514,
          "height": 394,
          "title": {"text": "Single-Sided Amplitude Spectrum", "offset": -3},
          "encoding": {
            "x": {
              "field": "f", "type": "quantitative",
              "scale": {"domain": [0, 250], "nice": false},
              "axis": {"values": [0, 50, 100, 150, 200, 250], "title": "Frequency (Hz)"}
            },
            "y": {
              "field": "a", "type": "quantitative",
              "scale": {"domain": [0, 300], "nice": false},
              "axis": {"values": [0, 50, 100, 150, 200, 250, 300], "title": "Amplitude (N)"}
            }
          },
          "layer": [
            {
              "data": {"name": "amp"},
              "mark": {"type": "line", "strokeWidth": 2, "interpolate": "monotone", "clip": true},
              "encoding": {
                "color": {
                  "field": "s", "type": "nominal",
                  "scale": {
                    "domain": ["V=30km/h-Exp.", "V=60km/h-Exp.", "V=90km/h-Exp.", "V=30km/h-Simu.", "V=60km/h-Simu."],
                    "range": ["#808080", "#A2142F", "#EDB120", "#4D4D4D", "#A2142F"]
                  },
                  "legend": {"orient": "top-right"}
                },
                "strokeDash": {
                  "field": "s", "type": "nominal",
                  "scale": {
                    "domain": ["V=30km/h-Exp.", "V=60km/h-Exp.", "V=90km/h-Exp.", "V=30km/h-Simu.", "V=60km/h-Simu."],
                    "range": [[1, 0], [1, 0], [1, 0], [8, 3, 2, 3], [8, 3, 2, 3]]
                  },
                  "legend": {"orient": "top-right"}
                }
              }
            },
            {
              "data": {"name": "arrows"},
              "mark": {"type": "rule", "color": "black", "strokeWidth": 1},
              "encoding": {
                "x2": {"field": "f2"},
                "y2": {"field": "a2"}
              }
            },
            {
              "data": {"name": "tips"},
              "mark": {
                "type": "point",
                "shape": "M0,0L0.45,1.6L0,1.2L-0.45,1.6Z",
                "size": 256,
                "angle": 211,
                "filled": true,
                "color": "black",
                "opacity": 1
              }
            },
            {
              "data": {"name": "ring"},
              "mark": {
                "type": "point",
                "shape": "M-1,0A1,0.593,0,1,1,1,0A1,0.593,0,1,1,-1,0Z",
                "size": 9150,
                "filled": false,
                "color": "black",
                "strokeWidth": 1,
                "strokeDash": [7, 5],
                "opacity": 1
              }
            },
            {
              "data": {"name": "notes"},
              "mark": {"type": "text", "align": "left", "baseline": "middle", "fontSize": 20, "font": "Liberation Serif", "color": "black"},
              "encoding": {"text": {"field": "t"}}
            }
          ]
        }
      ]
    },
    {
      "title": {"text": "(b)\u2002Power spectrum.", "orient": "bottom", "offset": 19},
      "resolve": {
        "scale": {"color": "independent", "strokeDash": "independent"},
        "legend": {"color": "independent", "strokeDash": "independent"}
      },
      "vconcat": [
        {
          "width": 513,
          "height": 394,
          "title": {"text": "Power Spectrum", "offset": 8},
          "encoding": {
            "y": {
              "field": "p", "type": "quantitative",
              "scale": {"type": "log", "domain": [1, 200], "nice": false},
              "axis": {
                "values": [1, 10, 100],
                "title": "Power (N² · Hz⁻¹)",
                "labelExpr": "datum.value == 1 ? '10⁰' : datum.value == 10 ? '10¹' : '10²'"
              }
            }
          },
          "layer": [
            {
              "data": {"name": "minor"},
              "mark": {"type": "rule", "color": "#c8c8c8", "strokeWidth": 1, "strokeDash": [1, 4]}
            },
            {
              "data": {"name": "psd"},
              "mark": {"type": "line", "strokeWidth": 2, "interpolate": "monotone", "clip": true},
              "encoding": {
                "x": {
                  "field": "f", "type": "quantitative",
                  "scale": {"domain": [0, 230], "nice": false},
                  "axis": {"values": [0, 50, 100, 150, 200], "title": "Frequency (Hz)"}
                },
                "color": {
                  "field": "s", "type": "nominal",
                  "scale": {
                    "domain": ["V=30km/h-Exp.", "V=60km/h-Exp.", "V=90km/h-Exp.", "V=30km/h-Simu.", "V=60km/h-Simu."],
                    "range": ["#808080", "#A2142F", "#EDB120", "#4D4D4D", "#A2142F"]
                  },
                  "legend": {"orient": "bottom-left"}
                },
                "strokeDash": {
                  "field": "s", "type": "nominal",
                  "scale": {
                    "domain": ["V=30km/h-Exp.", "V=60km/h-Exp.", "V=90km/h-Exp.", "V=30km/h-Simu.", "V=60km/h-Simu."],
                    "range": [[1, 0], [1, 0], [1, 0], [8, 3, 2, 3], [8, 3, 2, 3]]
                  },
                  "legend": {"orient": "bottom-left"}
                }
              }
            }
          ]
        }
      ]
    }
  ]
}
